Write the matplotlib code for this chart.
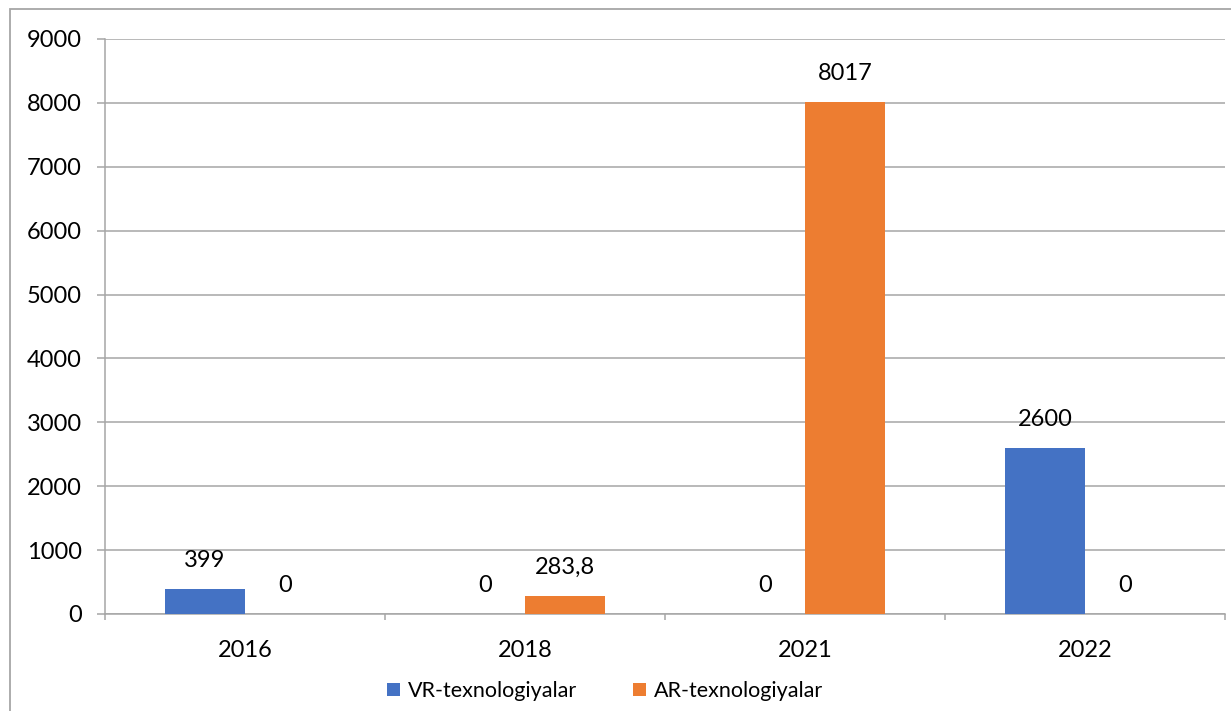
import matplotlib.pyplot as plt
from matplotlib.patches import Rectangle
import numpy as np

years = ['2016', '2018', '2021', '2022']
vr = [399, 0, 0, 2600]
ar = [0, 283.8, 8017, 0]
series_names = ['VR-texnologiyalar', 'AR-texnologiyalar']
colors = ['#4472C4', '#ED7D31']


def fmt(v):
    s = ('%g' % v).replace('.', ',')
    return s


plt.rcParams['font.family'] = ['Lato', 'DejaVu Sans']
fs = 17
fig = plt.figure(figsize=(12.31, 7.11), dpi=100)
ax = fig.add_axes([105 / 1231, 1 - 614 / 711, 1120 / 1231, 575 / 711])

x = np.arange(len(years))
w = 80 / 280
b1 = ax.bar(x, vr, width=-w, align='edge', color=colors[0], label=series_names[0], zorder=3)
b2 = ax.bar(x, ar, width=w, align='edge', color=colors[1], label=series_names[1], zorder=3)

for bars, vals in ((b1, vr), (b2, ar)):
    for rect, v in zip(bars, vals):
        ax.annotate(fmt(v), (rect.get_x() + rect.get_width() / 2, v),
                    xytext=(0, 20.5), textcoords='offset points',
                    ha='center', va='center', fontsize=fs)

ax.set_xlim(-0.5, 3.5)
ax.set_ylim(0, 9000)
ax.set_yticks(range(0, 9001, 1000))
ax.yaxis.grid(True, color='#a6a6a6', linewidth=1.1, zorder=0)
ax.set_xticks(np.arange(-0.5, 4, 1))
ax.set_xticklabels([])
ax.set_xticks(x, minor=True)
ax.set_xticklabels(years, minor=True)
ax.tick_params(axis='x', which='major', length=4.5, color='#a6a6a6', width=1.1)
ax.tick_params(axis='x', which='minor', length=0, pad=19, labelsize=fs)
ax.tick_params(axis='y', length=5.8, color='#a6a6a6', width=1.1, pad=11, labelsize=fs)

for s in ['top', 'right']:
    ax.spines[s].set_visible(False)
for s in ['left', 'bottom']:
    ax.spines[s].set_color('#a6a6a6')
    ax.spines[s].set_linewidth(1.1)

fig.legend(loc='center', bbox_to_anchor=(605 / 1231, 1 - 691 / 711), ncol=2,
           frameon=False, fontsize=15.5,
           handlelength=0.6, handleheight=0.6,
           handletextpad=0.35, columnspacing=2.6)

fig.patches.append(Rectangle((10 / 1231, -0.05), 1.1, 1 - 9 / 711 + 0.05,
                             transform=fig.transFigure, fill=False,
                             edgecolor='#a6a6a6', linewidth=1.3))

plt.savefig('out.png', dpi=100)
plt.close()
